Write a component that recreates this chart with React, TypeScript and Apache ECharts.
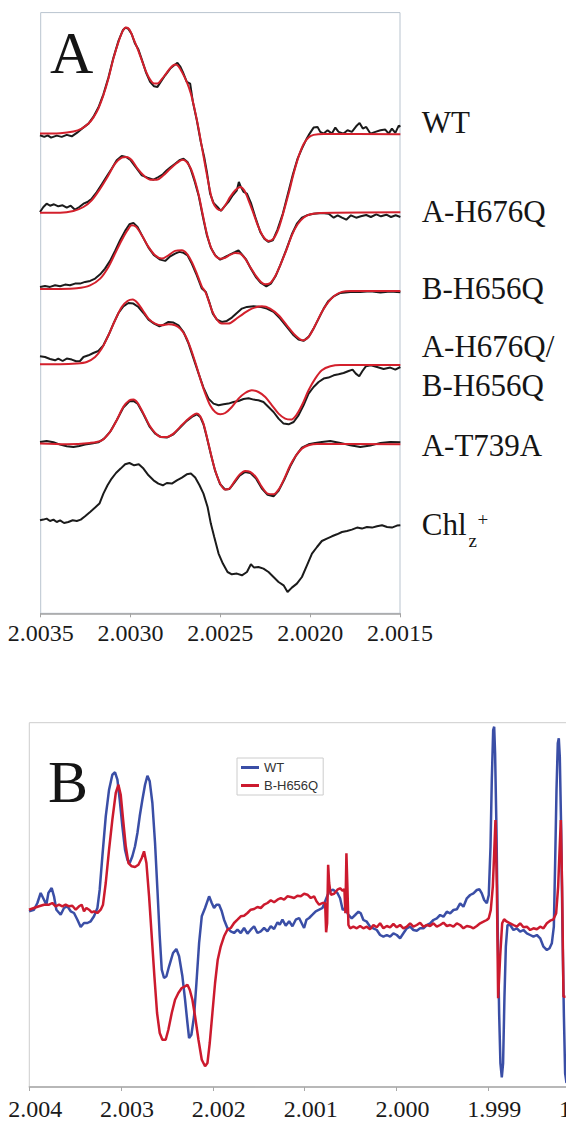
import React, { useEffect, useRef } from "react";
import * as echarts from "echarts";

// ---------- Panel A : g-value axis, traces offset vertically ----------
const A_AXIS = { min: 2.0015, max: 2.0035, interval: 0.0005 };
const A_TRACE_NAMES = ["WT", "A-H676Q", "B-H656Q", "A-H676Q/B-H656Q", "A-T739A", "Chlz+"];
const A_OFFSETS = [479.7, 401.3, 324.7, 249, 169.7, 93];

const WT_DATA = [[2.003504,-1.7],[2.00348,-3.3],[2.003461,-1.7],[2.003442,-4],[2.003411,-2],[2.003383,-3.3],[2.003355,-1.3],[2.003327,-2.7],[2.003299,0.7],[2.003272,4.7],[2.003234,10],[2.003207,16.7],[2.003179,26],[2.003151,39.3],[2.003123,56],[2.003095,76],[2.003067,92.7],[2.003043,103.3],[2.003028,106],[2.003012,104.7],[2.002993,99.3],[2.002975,90],[2.002956,84],[2.002937,74],[2.002913,60.7],[2.002891,51.7],[2.002869,47.3],[2.00285,46.7],[2.002832,51.7],[2.002807,58.3],[2.002779,65],[2.002757,68.3],[2.002739,70.7],[2.002724,67.3],[2.002709,61.7],[2.002687,51.7],[2.002668,50],[2.002653,31.7],[2.002631,13.3],[2.002609,-8.3],[2.00259,-23.3],[2.002575,-38.3],[2.002557,-60],[2.002538,-69.3],[2.002516,-73.3],[2.002497,-77.3],[2.002479,-73.3],[2.002455,-68.3],[2.002431,-61.7],[2.002408,-56.7],[2.002397,-48.3],[2.002386,-53.3],[2.002371,-58.3],[2.002352,-60],[2.00233,-69.3],[2.002306,-83.3],[2.002278,-98.3],[2.002256,-105],[2.002232,-108.3],[2.002208,-106.7],[2.002182,-96],[2.002152,-80],[2.002126,-61.7],[2.002096,-40.7],[2.00207,-25],[2.002046,-15],[2.002022,-6],[2.002003,0],[2.001981,6],[2.001959,6.7],[2.001944,1.7],[2.001925,0],[2.001903,3.3],[2.001879,0],[2.00186,6],[2.001842,1.7],[2.001814,0],[2.001792,3.3],[2.001768,1.7],[2.001744,7.3],[2.001725,10.7],[2.001707,5],[2.001688,6.7],[2.001665,0],[2.001637,1.7],[2.001609,3.3],[2.001582,4],[2.001563,0],[2.001545,5],[2.001526,0.7],[2.001507,8],[2.001498,6.7]];
const WT_FIT = [[2.003504,0],[2.003392,0.3],[2.003318,2],[2.003272,5],[2.003234,10],[2.003207,16],[2.003179,25],[2.003151,38.3],[2.003123,55],[2.003095,75],[2.003067,91.7],[2.003043,102.7],[2.003025,106],[2.003006,104],[2.002984,95],[2.002961,85],[2.002937,73.3],[2.002913,61.7],[2.002891,54],[2.002869,50],[2.00285,50],[2.002828,54],[2.002802,60],[2.002776,66],[2.002752,69],[2.002733,67.3],[2.002709,60],[2.002687,51.7],[2.002664,40],[2.002644,25],[2.002623,6.7],[2.002603,-13.3],[2.002583,-33.3],[2.002562,-53.3],[2.002542,-68.3],[2.002519,-75],[2.002497,-76.7],[2.002473,-71.7],[2.002445,-63.3],[2.002417,-56.7],[2.002389,-53.3],[2.002367,-56.7],[2.002343,-66.7],[2.002315,-80],[2.002288,-93.3],[2.00226,-103.3],[2.002232,-107.3],[2.002204,-105],[2.002176,-95],[2.002148,-78.3],[2.00212,-60],[2.002092,-40],[2.002065,-23.3],[2.002037,-10.7],[2.002009,-4],[2.001981,-1.3],[2.001925,-0.3],[2.001498,-0.7]];

const AH676Q_DATA = [[2.003504,0],[2.003485,5],[2.003467,8.3],[2.003448,6.3],[2.003426,7.7],[2.003402,5.7],[2.003378,6.7],[2.003355,4.3],[2.003333,6.3],[2.003309,2.3],[2.003285,5],[2.003262,8.3],[2.00324,10],[2.003216,13.3],[2.003188,20],[2.00316,27.7],[2.003132,35.7],[2.003105,43.3],[2.003077,51.7],[2.003049,56],[2.003025,55],[2.002999,51.7],[2.002969,44.3],[2.002937,36.7],[2.002906,34.3],[2.002872,32.3],[2.002845,35],[2.00282,37.7],[2.002798,41.7],[2.002776,45],[2.002752,48.3],[2.002728,51.7],[2.002705,53.3],[2.002683,50],[2.002664,42.3],[2.002642,30],[2.00262,15.7],[2.002597,-5],[2.002575,-23.3],[2.002553,-35.7],[2.002529,-43.3],[2.002501,-47.7],[2.002473,-45],[2.002445,-42.3],[2.002417,-40],[2.002399,-38.3],[2.00238,-42.3],[2.002356,-47.7],[2.00233,-56.7],[2.0023,-65.7],[2.002274,-71],[2.002244,-74.3],[2.002219,-71.7],[2.002193,-64.3],[2.002167,-53.3],[2.002133,-37.7],[2.002102,-22.3],[2.002074,-11.7],[2.002046,-5.7],[2.002018,-3.3],[2.001981,-1.7],[2.001935,-1],[2.001897,-1.7],[2.001869,-5.7],[2.001847,-3.3],[2.001823,-5.7],[2.001799,-7.7],[2.001773,-3.3],[2.001744,-5.7],[2.001718,-4.3],[2.001688,-3],[2.001662,-5],[2.001632,-2.3],[2.001606,-4.3],[2.001576,-2.7],[2.00155,-5],[2.001524,-3.3],[2.001498,-5]];
const AH676Q_FIT = [[2.003504,-0.7],[2.003392,-0.7],[2.003318,1],[2.003262,5],[2.003216,11.7],[2.003169,23.3],[2.003123,36.7],[2.003086,48.3],[2.003049,54.3],[2.003021,55],[2.002993,51.7],[2.002961,43.3],[2.002928,36.7],[2.002891,32.3],[2.002854,32.3],[2.002817,36.7],[2.002779,43.3],[2.002742,49],[2.002709,52.3],[2.002687,50],[2.002664,43.3],[2.002642,31.7],[2.00262,16.7],[2.002597,-3.3],[2.002575,-21.7],[2.002553,-35],[2.002529,-43.3],[2.002501,-46.7],[2.002473,-45.7],[2.002445,-42.7],[2.002417,-41],[2.002389,-41.7],[2.002362,-46.7],[2.002334,-55],[2.0023,-64.3],[2.002274,-70],[2.00225,-72.3],[2.002222,-71],[2.002195,-64.3],[2.002167,-53.3],[2.002133,-38.3],[2.002102,-23.3],[2.00207,-12.3],[2.002037,-5.7],[2.001999,-2.3],[2.001944,-1],[2.001498,-0.3]];

const BH656Q_DATA = [[2.003504,1.7],[2.003476,2.7],[2.003448,1.7],[2.00342,3.3],[2.003392,2.3],[2.003364,4],[2.003337,3.3],[2.003309,5],[2.003281,5],[2.003253,6.7],[2.003225,7.7],[2.003197,10],[2.003169,14.3],[2.003142,20],[2.003114,27.7],[2.003086,37.7],[2.003058,48.3],[2.00303,57.7],[2.003006,64.3],[2.002984,65.7],[2.002961,61.7],[2.002932,51.7],[2.0029,41],[2.002869,33.3],[2.002835,29],[2.002807,27.7],[2.002779,32.3],[2.002752,35],[2.002728,36.7],[2.002705,35.7],[2.002683,33.3],[2.002659,25],[2.002631,13.3],[2.002603,0],[2.002581,-3.3],[2.002562,-13.3],[2.002542,-25],[2.002519,-31],[2.002492,-33.3],[2.002464,-32.3],[2.002436,-29],[2.002408,-24.3],[2.00238,-20],[2.002352,-18.3],[2.002315,-17.7],[2.002278,-18.3],[2.002241,-20],[2.002204,-23.3],[2.002167,-30],[2.00213,-38.3],[2.002092,-46.7],[2.002065,-51],[2.002037,-52.3],[2.002009,-48.3],[2.001981,-40],[2.001953,-30],[2.001925,-20],[2.001898,-12.3],[2.001869,-7.7],[2.001832,-4.3],[2.001777,-3.3],[2.001721,-3.3],[2.001665,-2.7],[2.001609,-4],[2.001554,-3],[2.001498,-3.7]];
const BH656Q_FIT = [[2.003504,-0.3],[2.003392,-0.3],[2.003299,0.3],[2.003225,3.3],[2.003169,10],[2.003123,21.7],[2.003086,35],[2.003049,48.3],[2.003017,58.3],[2.002993,63.3],[2.002969,61.7],[2.002937,53.3],[2.0029,41.7],[2.002863,33.3],[2.002826,30],[2.002789,33.3],[2.002752,37.7],[2.002714,38.3],[2.002687,35],[2.002659,26.7],[2.002631,15],[2.002603,2],[2.002584,-3],[2.002566,-11.7],[2.002547,-21.7],[2.002523,-30],[2.002492,-35],[2.002455,-35],[2.002417,-31],[2.002371,-25],[2.002325,-20],[2.002269,-17.7],[2.002223,-20],[2.002176,-26.7],[2.00213,-36.7],[2.002083,-46.7],[2.002041,-51.7],[2.002009,-48.3],[2.001972,-36.7],[2.001935,-23.3],[2.001898,-13.3],[2.001861,-6.7],[2.001824,-3.3],[2.001777,-2.3],[2.001498,-2.3]];

const DOUBLE_DATA = [[2.003504,8],[2.003476,7.3],[2.003448,5.3],[2.00342,4],[2.003402,5.7],[2.003378,3.3],[2.003355,5.7],[2.003327,4.7],[2.003303,3],[2.003281,3.3],[2.003262,7.3],[2.003234,9],[2.003207,11.3],[2.003179,13.3],[2.003151,19],[2.003123,29],[2.003095,40.7],[2.003067,51.3],[2.00304,58],[2.003012,61.3],[2.002984,60.7],[2.002956,57.3],[2.002928,51.3],[2.0029,44.7],[2.002869,40.7],[2.002839,38],[2.002813,40],[2.002789,42.3],[2.002761,41.7],[2.002733,39],[2.002705,32.3],[2.002677,20.7],[2.002649,5.7],[2.002621,-9.3],[2.002594,-23.3],[2.002566,-34.3],[2.002538,-39.3],[2.00251,-41],[2.002482,-40],[2.002455,-39.3],[2.002427,-37.7],[2.002399,-36.7],[2.002371,-34.7],[2.002343,-34],[2.002315,-35.3],[2.002288,-36],[2.00226,-37.7],[2.002232,-42.7],[2.002204,-47.7],[2.002176,-54.3],[2.002148,-59.3],[2.00212,-60],[2.002092,-57.7],[2.002065,-51],[2.002037,-41],[2.002009,-29.3],[2.001981,-22.7],[2.001953,-17.7],[2.001925,-14.3],[2.001898,-13.3],[2.001869,-11],[2.001842,-10],[2.001814,-8.7],[2.001786,-6.7],[2.001764,-5.3],[2.001746,-9.3],[2.001727,-12],[2.001709,-6.7],[2.00169,-2],[2.001662,-1],[2.001628,-2.7],[2.001591,-4.7],[2.001554,-3.3],[2.001526,-5.3],[2.001498,-2.7]];
const DOUBLE_FIT = [[2.003504,0],[2.003392,0],[2.003299,0.7],[2.003244,2.3],[2.003197,7.3],[2.00316,15.7],[2.003123,29],[2.003086,44],[2.003049,57.3],[2.003017,63.3],[2.002988,64.7],[2.002961,61.3],[2.002932,54],[2.0029,45.7],[2.002863,40.7],[2.002826,39],[2.002789,40],[2.002752,39],[2.002724,35.7],[2.002696,29],[2.002668,17.3],[2.00264,2.3],[2.002612,-14.3],[2.002584,-29.3],[2.002557,-41],[2.002529,-47.7],[2.002501,-50],[2.002473,-48.7],[2.002436,-42.7],[2.002399,-34.3],[2.002362,-28.7],[2.002325,-26],[2.002288,-27.7],[2.00225,-32.7],[2.002213,-41],[2.002176,-49.3],[2.002139,-54.3],[2.002107,-55.3],[2.002078,-51],[2.002046,-41],[2.002009,-26],[2.001972,-14.3],[2.001935,-6],[2.001888,-2],[2.001832,-0.7],[2.001498,-0.7]];

const T739A_DATA = [[2.003504,1.7],[2.003467,2.7],[2.003429,1.3],[2.003392,-1],[2.003355,-2.7],[2.003318,-3.3],[2.003285,-2.3],[2.003253,-1],[2.003216,0],[2.003179,1.3],[2.003147,5],[2.003114,11.7],[2.003077,23.3],[2.00304,36],[2.003006,42.3],[2.002984,42.7],[2.002961,40],[2.002928,29.3],[2.002895,17.3],[2.002863,10],[2.002832,6.7],[2.002798,6],[2.002761,9.3],[2.002724,16],[2.002687,22.7],[2.002653,27.3],[2.002631,29.3],[2.002612,26.7],[2.002594,19.3],[2.002575,6],[2.002553,-10.7],[2.002529,-27.3],[2.002501,-40.7],[2.002473,-46],[2.002449,-45.3],[2.002423,-39.3],[2.002393,-32],[2.002362,-28.3],[2.002334,-29.3],[2.0023,-35.3],[2.002269,-45],[2.002237,-51.3],[2.002204,-52.7],[2.002176,-47.3],[2.002144,-36],[2.002111,-22.7],[2.002078,-11.7],[2.002046,-4],[2.002009,-0.7],[2.001972,0.7],[2.001935,1.7],[2.001888,2.7],[2.001832,0.7],[2.001777,-1.7],[2.001721,-3.3],[2.001665,-2],[2.001609,0.7],[2.001554,1.7],[2.001498,1.3]];
const T739A_FIT = [[2.003504,0],[2.003355,-0.7],[2.003225,0.7],[2.00316,3.3],[2.003114,11.7],[2.003077,23.3],[2.00304,36.7],[2.003006,43.3],[2.002984,44],[2.002961,40.7],[2.002928,30],[2.002895,18.3],[2.002863,10.7],[2.002832,6.7],[2.002798,6.7],[2.002761,10],[2.002724,16.7],[2.002687,23.3],[2.002653,28.3],[2.002631,30],[2.002612,27.3],[2.002594,20],[2.002575,6.7],[2.002553,-10],[2.002529,-26.7],[2.002501,-40],[2.002473,-46],[2.002449,-45],[2.002423,-38.3],[2.002393,-31],[2.002362,-27.3],[2.002334,-28.3],[2.0023,-34],[2.002269,-43.3],[2.002237,-50],[2.002204,-50.7],[2.002176,-46],[2.002144,-35],[2.002111,-21.7],[2.002078,-11.7],[2.002046,-5],[2.002009,-1.7],[2.001962,-0.3],[2.001498,-0.7]];

const CHL_DATA = [[2.003504,0],[2.003485,0.7],[2.003467,1.7],[2.003448,-0.7],[2.003429,0.7],[2.003411,-1.7],[2.003392,0],[2.00337,-2.7],[2.003346,-1.7],[2.003322,0],[2.003299,-0.7],[2.003277,0.7],[2.003253,4],[2.003225,8.3],[2.003197,12.7],[2.003173,16.7],[2.003151,26.7],[2.003128,35],[2.003105,41.7],[2.003081,47.3],[2.003055,51.7],[2.00303,56],[2.003006,57.3],[2.00298,55],[2.002954,56],[2.002928,51.7],[2.0029,45],[2.002872,40],[2.002845,36.7],[2.00282,35],[2.002798,37.3],[2.00277,36.7],[2.002742,40],[2.002714,42.7],[2.002687,46],[2.002664,46.7],[2.00264,42.7],[2.002616,35],[2.002594,26.7],[2.002571,13.3],[2.002553,-3.3],[2.002534,-16.7],[2.00251,-33.3],[2.002486,-43.3],[2.00246,-51.7],[2.002436,-54],[2.002408,-53.3],[2.00238,-55],[2.002352,-51.7],[2.00233,-44],[2.002312,-47.3],[2.002288,-46.7],[2.00226,-48.3],[2.002232,-51.7],[2.002204,-56.7],[2.002176,-61.7],[2.002148,-65],[2.002126,-71.7],[2.002102,-67.3],[2.002074,-63.3],[2.002046,-56.7],[2.002018,-45],[2.00199,-33.3],[2.001962,-26.7],[2.001935,-20.7],[2.001907,-18.3],[2.001879,-16],[2.001851,-14],[2.001823,-11.7],[2.001795,-10.7],[2.001768,-9.3],[2.001739,-7.3],[2.001712,-8.3],[2.001684,-6.7],[2.001656,-7.3],[2.001628,-6],[2.0016,-5],[2.001572,-6.7],[2.001545,-7.3],[2.001517,-5.3],[2.001498,-5]];

const A_DATA = [WT_DATA, AH676Q_DATA, BH656Q_DATA, DOUBLE_DATA, T739A_DATA, CHL_DATA];
const A_FITS = [WT_FIT, AH676Q_FIT, BH656Q_FIT, DOUBLE_FIT, T739A_FIT, null];
const A_LABELS = ["WT", "A-H676Q", "B-H656Q", "A-H676Q/", "B-H656Q", "A-T739A"];

// ---------- Panel B ----------
const B_AXIS = { min: 1.998, max: 2.004, interval: 0.001 };
const B_NAMES = ["WT", "B-H656Q"];
const B_WT = [[2.004003,-6.3],[2.003949,-4.7],[2.003912,2],[2.003876,12],[2.00384,5.3],[2.003814,0.3],[2.003792,12],[2.003756,17],[2.003731,8.7],[2.003705,-4.7],[2.003658,-9.7],[2.003622,-3],[2.003585,-1.3],[2.003549,-6.3],[2.003513,-8],[2.003476,-14.7],[2.00344,-22],[2.003404,-18],[2.003367,-18],[2.003331,-16.3],[2.003295,-11.3],[2.003258,-3],[2.003233,15.3],[2.003204,48.7],[2.003167,88.7],[2.003131,115.3],[2.003095,130.3],[2.003066,132.7],[2.00304,125.3],[2.003015,105.3],[2.002986,78.7],[2.002957,55.3],[2.002931,45.3],[2.002906,42],[2.002877,48.7],[2.002848,58.7],[2.002822,72],[2.002797,88.7],[2.002768,105.3],[2.002739,120.3],[2.002713,129.3],[2.002688,123.7],[2.002659,102],[2.00263,62],[2.002604,15.3],[2.002579,-31.3],[2.002557,-64.7],[2.002532,-73],[2.002506,-71.3],[2.002477,-61.3],[2.002434,-48],[2.002398,-44],[2.002368,-51.3],[2.002332,-71.3],[2.002303,-94.7],[2.002277,-118],[2.002259,-133],[2.002234,-129.7],[2.002205,-111.3],[2.002179,-78],[2.00215,-38],[2.002121,-11.3],[2.002085,-3],[2.002041,8.7],[2.002012,2],[2.001987,-3],[2.001961,0.3],[2.001932,0.3],[2.001903,-6.3],[2.001878,-14.7],[2.001842,-23],[2.001805,-26.3],[2.001769,-28],[2.001732,-24.7],[2.001696,-28],[2.00166,-23],[2.001623,-28.7],[2.001587,-24.7],[2.001551,-21.3],[2.001514,-28],[2.001478,-26.3],[2.001442,-23],[2.001405,-26.3],[2.001369,-21.3],[2.001333,-24],[2.001296,-17.3],[2.001271,-19.7],[2.001242,-14.7],[2.001206,-20.7],[2.001169,-16.3],[2.001133,-21.3],[2.001097,-14.7],[2.00106,-13],[2.001024,-19.7],[2.001006,-23],[2.00098,-14.7],[2.000951,-13],[2.000915,-9.7],[2.000879,-6.3],[2.000842,-4.7],[2.000806,-3],[2.00077,5.3],[2.000733,13.7],[2.00069,15.3],[2.000643,12],[2.000614,6.7],[2.000585,-5],[2.000559,-3.3],[2.000523,-10],[2.000487,-13.3],[2.00045,-10],[2.000414,-6.7],[2.000389,-8.3],[2.00036,-15],[2.000323,-16.7],[2.000287,-21.7],[2.000251,-23.3],[2.000214,-25],[2.000178,-30],[2.000142,-31.7],[2.000105,-30],[2.000069,-31.7],[2.000033,-28.3],[1.999996,-30],[1.99996,-33.3],[1.999924,-28.3],[1.999887,-23.3],[1.999851,-21.7],[1.999815,-25],[1.999778,-25.7],[1.999742,-23.3],[1.999706,-23.3],[1.999669,-20],[1.999633,-18.3],[1.999597,-15],[1.99956,-13.3],[1.999524,-10],[1.999488,-11.7],[1.999451,-6.7],[1.999415,-8.3],[1.999379,-5],[1.999342,-4.3],[1.999306,1.7],[1.99927,-1.7],[1.999233,6.7],[1.999197,10],[1.999161,11.7],[1.999124,15],[1.999095,15.7],[1.99907,11.7],[1.999044,5],[1.999015,1.7],[1.998994,10],[1.998975,58.3],[1.998961,125],[1.998946,175],[1.998935,178.3],[1.998925,151.7],[1.99891,75],[1.998896,-25],[1.998881,-108.3],[1.998867,-158.3],[1.998852,-172.3],[1.998838,-158.3],[1.998823,-91.7],[1.998808,-41.7],[1.99879,-20],[1.998761,-20],[1.998725,-25],[1.998688,-23.3],[1.998652,-26.7],[1.998616,-25],[1.998579,-28.3],[1.998543,-30],[1.998507,-31.7],[1.99847,-30],[1.998434,-33.3],[1.998398,-41.7],[1.998361,-45],[1.998332,-43.3],[1.998307,-38.3],[1.998285,-21.7],[1.998271,41.7],[1.998256,115],[1.998242,161.7],[1.998231,166.7],[1.99822,148.3],[1.998205,75],[1.998191,-25],[1.998176,-108.3],[1.998162,-168.3],[1.998147,-178]];
const B_H656Q = [[2.004003,-4.7],[2.003949,-3],[2.003894,-1.3],[2.00384,0.3],[2.003785,0.3],[2.003749,2],[2.003713,-1.3],[2.003676,0.3],[2.00364,-1.3],[2.003604,0.3],[2.003567,-1.3],[2.003531,-0.7],[2.003494,-4.7],[2.003458,-1.3],[2.003429,0.3],[2.003404,-6.3],[2.003378,-3],[2.003349,-4.7],[2.00332,-7.3],[2.003295,-6.3],[2.003258,-8],[2.003222,-4.7],[2.003197,0.3],[2.003167,22],[2.003131,55.3],[2.003095,85.3],[2.003058,112],[2.003029,120.3],[2.003004,110.3],[2.002978,85.3],[2.002949,58.7],[2.00292,42],[2.002884,38.7],[2.002848,38],[2.002811,40.3],[2.002775,47],[2.00275,53.7],[2.002724,42],[2.002695,8.7],[2.002666,-31.3],[2.002637,-71.3],[2.002608,-108],[2.002579,-128],[2.00255,-134.7],[2.002514,-134.7],[2.002485,-124.7],[2.002448,-108],[2.002412,-94.7],[2.002376,-88],[2.002339,-83],[2.002303,-81.3],[2.002277,-79.7],[2.002252,-84.7],[2.002223,-94.7],[2.002194,-111.3],[2.002157,-134.7],[2.002121,-154.7],[2.002085,-161.3],[2.002059,-158],[2.002034,-138],[2.002005,-108],[2.001976,-78],[2.001947,-54.7],[2.001914,-41.3],[2.001878,-31.3],[2.001842,-24.7],[2.001805,-23],[2.001769,-18],[2.001732,-14.7],[2.001696,-11.3],[2.00166,-10.7],[2.001623,-8],[2.001587,-4.7],[2.001551,-4],[2.001514,-2],[2.001478,-3],[2.001442,0.3],[2.001405,2],[2.001369,4.7],[2.001333,2.7],[2.001296,5.3],[2.00126,7],[2.001224,5.3],[2.001188,8.7],[2.001151,8],[2.001115,7],[2.001079,9.3],[2.001042,8.7],[2.001006,11.3],[2.00097,10.3],[2.000933,7],[2.000897,8.7],[2.000871,3.7],[2.000842,0.3],[2.000806,2],[2.000777,2],[2.000766,-27.3],[2.000755,-18],[2.000744,40.3],[2.000733,22],[2.000715,10.3],[2.000679,11.3],[2.000643,15.3],[2.000614,16.7],[2.000585,14.3],[2.000567,15.7],[2.000556,-8.3],[2.000545,51.7],[2.000534,18.3],[2.000523,-20],[2.000505,-23.3],[2.000469,-21.7],[2.000432,-23.3],[2.000396,-21],[2.00036,-23.3],[2.000323,-21.7],[2.000287,-24.3],[2.000251,-20],[2.000214,-22.3],[2.000178,-18.3],[2.000142,-23.3],[2.000105,-21],[2.000069,-22.3],[2.000033,-19],[1.999996,-22.3],[1.99996,-20],[1.999924,-23.3],[1.999887,-21.7],[1.999851,-18.3],[1.999815,-21.7],[1.999778,-20],[1.999742,-17.7],[1.999706,-21.7],[1.999669,-20],[1.999633,-21],[1.999597,-18.3],[1.99956,-21.7],[1.999524,-20],[1.999488,-17.7],[1.999451,-21],[1.999415,-20],[1.999379,-21.7],[1.999342,-18.3],[1.999306,-20],[1.99927,-23.3],[1.999233,-21],[1.999197,-21.7],[1.999161,-23.3],[1.999124,-21],[1.999088,-18.3],[1.999052,-16.7],[1.999015,-15],[1.998994,-13.3],[1.998972,-5],[1.99895,18.3],[1.998935,51.7],[1.998921,85],[1.998906,18.3],[1.998892,-93.3],[1.99887,-51.7],[1.998848,-18.3],[1.998827,-14.3],[1.998797,-16.7],[1.998761,-18.3],[1.998725,-20],[1.998688,-21.7],[1.998652,-18.3],[1.998616,-22.3],[1.998579,-21.7],[1.998543,-25],[1.998507,-23.3],[1.99847,-24.3],[1.998434,-21.7],[1.998398,-23.3],[1.998361,-18.3],[1.998325,-15.7],[1.998289,-14.3],[1.99826,-8.3],[1.998238,18.3],[1.998224,51.7],[1.998209,85],[1.998195,18.3],[1.99818,-91.7],[1.998158,-91.7]];

const SERIF = "Liberation Serif";

export default function App() {
  const ref = useRef<HTMLDivElement>(null);
  useEffect(() => {
    const chart = echarts.init(ref.current!, null, { renderer: "svg" });
    const series: any[] = [];
    A_DATA.forEach((d, i) => {
      const off = A_OFFSETS[i];
      series.push({
        name: A_TRACE_NAMES[i] + " (data)", type: "line", xAxisIndex: 0, yAxisIndex: 0,
        symbol: "none", silent: true, z: 2,
        lineStyle: { color: "#1b1b1b", width: 2 },
        data: d.map(([g, v]) => [g, v + off]),
      });
    });
    A_FITS.forEach((d, i) => {
      if (!d) return;
      const off = A_OFFSETS[i];
      series.push({
        name: A_TRACE_NAMES[i] + " (fit)", type: "line", xAxisIndex: 0, yAxisIndex: 0,
        symbol: "none", silent: true, smooth: 0.3, z: 3,
        lineStyle: { color: "#d3202c", width: 2 },
        data: d.map(([g, v]) => [g, v + off]),
      });
    });
    series.push({
      name: B_NAMES[0], type: "line", xAxisIndex: 1, yAxisIndex: 1, symbol: "none", silent: true,
      color: "#3a4ea6", lineStyle: { color: "#3a4ea6", width: 2.5 }, data: B_WT, z: 2,
    });
    series.push({
      name: B_NAMES[1], type: "line", xAxisIndex: 1, yAxisIndex: 1, symbol: "none", silent: true,
      color: "#cc1a2e", lineStyle: { color: "#cc1a2e", width: 2.5 }, data: B_H656Q, z: 3,
    });

    const labelYs = [122.5, 211.7, 288, 346.7, 385.8, 445];
    const txt = (text: string, x: number, y: number, size: number) => ({
      type: "text", x, y,
      style: { text, fontFamily: SERIF, fontSize: size, fill: "#151515", align: "left", verticalAlign: "middle" },
    });
    const graphic: any[] = [
      txt("A", 50, 53.3, 60),
      txt("B", 48, 781.7, 60),
      ...A_LABELS.map((t, i) => txt(t, 421.7, labelYs[i], 31)),
      txt("Chl", 421.7, 524, 31),
      txt("z", 468.5, 540.5, 19),
      txt("+", 477.5, 519, 19),
    ];

    const axisCommon = (fmt: number, pad: number, margin: number, color: string) => ({
      type: "value", inverse: true,
      axisLine: { show: true, onZero: false, lineStyle: { color, width: 1.5 } },
      axisTick: { show: true, inside: false, length: 4, lineStyle: { color, width: 1 } },
      axisLabel: {
        formatter: (v: number) => "{s|" + v.toFixed(fmt) + "}",
        rich: { s: { fontFamily: SERIF, fontSize: 24, color: "#1a1a1a" } },
        fontFamily: SERIF, fontSize: 24, color: "#1a1a1a",
        margin, padding: [0, 0, 0, pad],
      },
      splitLine: { show: false },
    });

    chart.setOption({
      animation: false,
      backgroundColor: "#ffffff",
      textStyle: { fontFamily: SERIF },
      grid: [
        { left: 40.7, top: 12.6, width: 359.3, height: 600.7, show: true, borderColor: "#b9c4cf", borderWidth: 1, outerBoundsMode: "none", containLabel: false },
        { left: 29.3, top: 722.7, width: 550.7, height: 364.3, show: true, borderColor: "#cdcdcd", borderWidth: 1, outerBoundsMode: "none", containLabel: false },
      ],
      xAxis: [
        { gridIndex: 0, min: A_AXIS.min, max: A_AXIS.max, interval: A_AXIS.interval, ...axisCommon(4, 0, 8, "#a3a3a3") },
        { gridIndex: 1, min: B_AXIS.min, max: B_AXIS.max, interval: B_AXIS.interval, ...axisCommon(3, 12, 10, "#a8a8a8") },
      ],
      yAxis: [
        { gridIndex: 0, type: "value", min: 0, max: 600.7, show: false, splitLine: { show: false } },
        { gridIndex: 1, type: "value", min: -182, max: 182.3, show: false, splitLine: { show: false } },
      ],
      legend: {
        data: B_NAMES, orient: "vertical", left: 237, top: 758, selectedMode: false,
        padding: [3, 5, 3, 4], itemGap: 5, itemWidth: 18, itemHeight: 3, icon: "rect",
        borderColor: "#cccccc", borderWidth: 1, backgroundColor: "#ffffff",
        textStyle: { fontFamily: "Liberation Sans", fontSize: 13, color: "#333" },
      },
      graphic,
      series,
    });
    return () => chart.dispose();
  }, []);
  return (
    <div style={{ position: "absolute", left: 0, top: 0, width: 566, height: 1121, overflow: "hidden", background: "#fff" }}>
      <div ref={ref} style={{ width: 566, height: 1121 }} />
    </div>
  );
}
